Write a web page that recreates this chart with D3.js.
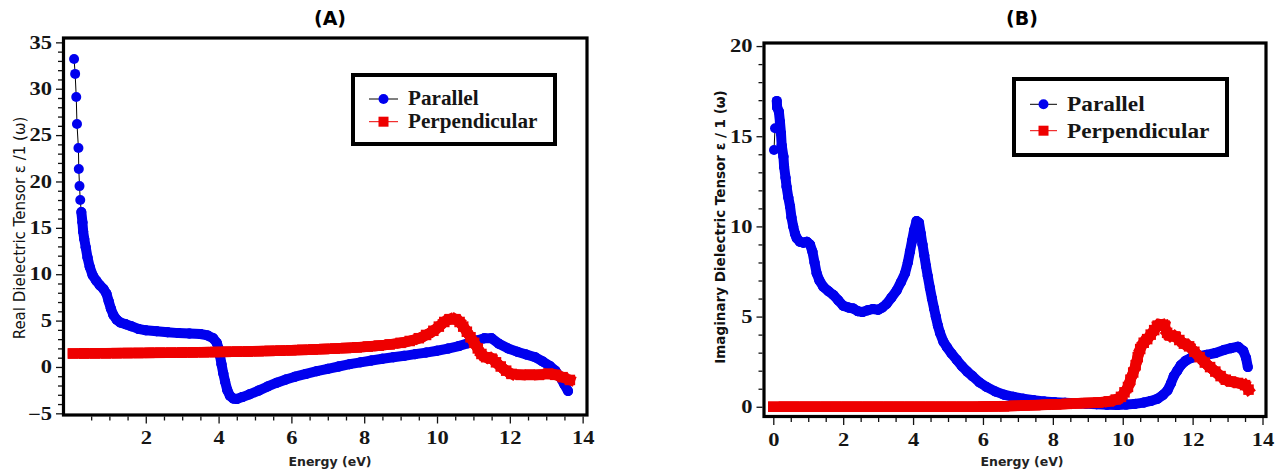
<!DOCTYPE html>
<html>
<head>
<meta charset="utf-8">
<script src="https://cdn.jsdelivr.net/npm/d3@7"></script>
<style>
  body { margin: 0; background: #fff; }
  svg { display: block; }
  .legend text { font-family: "Liberation Serif", "Times New Roman", serif; font-weight: bold; fill: #151515; transform-box: fill-box; transform-origin: left center; transform: scaleX(1.06); }
  .title { font-family: "DejaVu Sans", Verdana, sans-serif; font-weight: bold; font-size: 19px; }
  .xlabel { font-family: "DejaVu Sans", Verdana, sans-serif; font-weight: bold; font-size: 12.5px; fill: #222; }
</style>
</head>
<body>
<svg id="chart" width="1280" height="472"></svg>
<script>
// (A) real part, [energy eV, value]
const realParallel = [
  [0.03,33.2],[0.06,31.6],[0.09,29.1],[0.11,26.2],[0.15,23.6],[0.16,21.35],[0.18,19.5],[0.2,18.0],[0.23,16.7],[0.26,15.6],
  [0.28,14.6],[0.31,13.8],[0.35,12.9],[0.4,11.8],[0.46,10.8],[0.54,9.9],[0.64,9.3],[0.74,8.8],[0.84,8.4],[0.92,7.9],
  [0.98,7.1],[1.04,6.3],[1.11,5.6],[1.2,5.1],[1.3,4.8],[1.45,4.6],[1.6,4.4],[1.8,4.1],[2.0,3.95],[2.3,3.85],
  [2.6,3.75],[2.9,3.65],[3.2,3.6],[3.5,3.55],[3.7,3.4],[3.85,3.1],[3.95,2.6],[4.0,2.0],[4.04,1.2],[4.08,0.3],
  [4.13,-0.7],[4.18,-1.6],[4.24,-2.5],[4.31,-3.1],[4.4,-3.4],[4.5,-3.45],[4.65,-3.25],[4.85,-2.95],[5.1,-2.55],[5.35,-2.1],
  [5.6,-1.7],[5.85,-1.35],[6.1,-1.05],[6.4,-0.75],[6.7,-0.45],[7.0,-0.2],[7.3,0.05],[7.6,0.3],[7.9,0.5],[8.2,0.7],
  [8.5,0.88],[8.8,1.05],[9.1,1.2],[9.4,1.38],[9.7,1.55],[10.0,1.75],[10.3,1.98],[10.6,2.25],[10.85,2.55],[11.1,2.85],
  [11.3,3.1],[11.5,3.1],[11.7,2.5],[11.95,2.0],[12.2,1.65],[12.45,1.35],[12.7,1.05],[12.9,0.6],[13.1,0.1],[13.25,-0.4],
  [13.4,-1.2],[13.5,-1.9],[13.6,-2.6]
];
const realPerpendicular = [
  [0.0,1.45],[0.3,1.46],[0.6,1.47],[0.9,1.48],[1.2,1.49],[1.5,1.5],[1.8,1.51],[2.1,1.52],[2.4,1.53],[2.7,1.54],
  [3.0,1.55],[3.3,1.57],[3.6,1.59],[3.9,1.61],[4.2,1.63],[4.5,1.65],[4.8,1.67],[5.1,1.7],[5.4,1.73],[5.7,1.76],
  [6.0,1.8],[6.3,1.84],[6.6,1.88],[6.9,1.93],[7.2,1.98],[7.5,2.04],[7.8,2.11],[8.1,2.2],[8.4,2.3],[8.7,2.43],
  [9.0,2.6],[9.25,2.8],[9.5,3.1],[9.7,3.45],[9.9,3.9],[10.05,4.35],[10.2,4.85],[10.35,5.15],[10.5,5.15],[10.62,4.85],
  [10.72,4.35],[10.82,3.8],[10.92,3.2],[11.02,2.6],[11.12,2.0],[11.22,1.4],[11.35,1.05],[11.5,0.9],[11.62,0.5],[11.75,0.05],
  [11.9,-0.4],[12.05,-0.75],[12.3,-0.85],[12.55,-0.85],[12.8,-0.85],[13.05,-0.75],[13.25,-0.85],[13.45,-1.1],[13.65,-1.4]
];
// (B) imaginary part, [energy eV, value]
const imagParallel = [
  [0.02,14.24],[0.05,15.44],[0.1,16.96],[0.11,16.6],[0.16,16.36],[0.19,15.8],[0.22,15.16],[0.24,14.5],[0.29,13.87],[0.31,13.3],
  [0.35,12.7],[0.38,12.2],[0.43,11.6],[0.48,11.1],[0.52,10.5],[0.57,10.0],[0.62,9.6],[0.67,9.35],[0.76,9.15],[0.86,9.1],
  [0.96,9.15],[1.05,9.0],[1.12,8.6],[1.18,8.0],[1.24,7.4],[1.32,7.0],[1.43,6.66],[1.58,6.4],[1.72,6.2],[1.86,5.9],
  [2.0,5.6],[2.15,5.5],[2.29,5.45],[2.42,5.3],[2.55,5.25],[2.7,5.35],[2.85,5.42],[3.0,5.38],[3.12,5.5],[3.24,5.7],
  [3.38,6.05],[3.53,6.45],[3.65,6.9],[3.77,7.4],[3.85,8.0],[3.91,8.6],[3.97,9.2],[4.03,9.8],[4.1,10.3],[4.17,10.2],
  [4.22,9.6],[4.27,9.0],[4.32,8.4],[4.37,7.8],[4.42,7.25],[4.48,6.6],[4.54,6.0],[4.6,5.45],[4.65,5.0],[4.71,4.5],
  [4.77,4.1],[4.87,3.6],[4.97,3.3],[5.1,2.95],[5.25,2.6],[5.4,2.25],[5.55,1.95],[5.7,1.7],[5.9,1.35],[6.1,1.1],
  [6.35,0.85],[6.6,0.67],[6.87,0.55],[7.15,0.45],[7.45,0.36],[7.75,0.29],[8.05,0.25],[8.35,0.22],[8.65,0.19],[8.95,0.17],
  [9.25,0.14],[9.55,0.11],[9.85,0.1],[10.1,0.12],[10.35,0.16],[10.6,0.23],[10.8,0.32],[11.0,0.45],[11.15,0.65],[11.28,0.9],
  [11.38,1.3],[11.46,1.7],[11.56,2.0],[11.66,2.3],[11.8,2.55],[11.95,2.7],[12.15,2.8],[12.4,2.88],[12.65,2.98],[12.9,3.15],
  [13.1,3.25],[13.3,3.33],[13.45,3.1],[13.53,2.7],[13.58,2.2]
];
const imagPerpendicular = [
  [0.0,0],[0.3,0],[0.6,0],[0.9,0],[1.2,0],[1.5,0],[1.8,0],[2.1,0],[2.4,0],[2.7,0],
  [3.0,0],[3.3,0],[3.6,0],[3.9,0],[4.2,0],[4.5,0],[4.8,0],[5.1,0],[5.4,0],[5.7,0],
  [6.0,0.01],[6.3,0.02],[6.6,0.03],[6.9,0.05],[7.2,0.07],[7.5,0.09],[7.8,0.11],[8.1,0.13],[8.4,0.16],[8.7,0.19],
  [9.0,0.21],[9.3,0.24],[9.6,0.3],[9.8,0.4],[9.95,0.55],[10.05,0.8],[10.15,1.1],[10.22,1.5],[10.3,1.9],[10.37,2.3],
  [10.43,2.75],[10.5,3.2],[10.6,3.55],[10.7,3.75],[10.8,4.0],[10.9,4.25],[11.0,4.5],[11.1,4.55],[11.2,4.5],[11.27,4.1],
  [11.35,3.95],[11.5,3.9],[11.62,3.7],[11.75,3.5],[11.9,3.35],[12.05,3.05],[12.2,2.75],[12.35,2.45],[12.5,2.2],[12.65,1.95],
  [12.8,1.7],[12.95,1.5],[13.1,1.4],[13.3,1.32],[13.5,1.2],[13.6,0.95]
];

const seriesNames = ["Parallel", "Perpendicular"];
const seriesColors = ["#0000ee", "#ee0000"];
const xTicksA = [2, 4, 6, 8, 10, 12, 14];
const xTicksB = [0, 2, 4, 6, 8, 10, 12, 14];
const yTicksA = [-5, 0, 5, 10, 15, 20, 25, 30, 35];
const yTicksB = [0, 5, 10, 15, 20];

const svg = d3.select("#chart");
const serif = "'Liberation Serif', 'Times New Roman', serif";

const panels = [
  {
    title: "(A)", ylabel: "Real Dielectric Tensor \u03b5 /1 (\u03c9)", ylabelBold: false, ylabelSize: 15,
    series: [realParallel, realPerpendicular],
    left: 63.5, right: 587, top: 38, bottom: 415,
    xDomain: [-0.26, 14.12], yDomain: [-5.18, 35.47],
    xTicks: xTicksA, xMinorFrom: 0.5, yTicks: yTicksA, yMinorStep: 1,
    legend: { x: 353, y: 75, w: 202, h: 69, rows: [99, 121.7], lineX: [369, 398], textX: 408, fontSize: 20 },
    ylabelX: 20, ylabelY: 228, centerX: 330
  },
  {
    title: "(B)", ylabel: "Imaginary Dielectric Tensor \u03b5 / 1 (\u03c9)", ylabelBold: true, ylabelSize: 13.5,
    series: [imagParallel, imagPerpendicular],
    left: 764, right: 1266, top: 43, bottom: 416.5,
    xDomain: [-0.266, 14.1], yDomain: [-0.54, 20.17],
    xTicks: xTicksB, xMinorFrom: 0, yTicks: yTicksB, yMinorStep: 1,
    legend: { x: 1014, y: 79, w: 213, h: 76, rows: [104.3, 130.7], lineX: [1030, 1057], textX: 1067, fontSize: 22 },
    ylabelX: 720, ylabelY: 227, centerX: 1022
  }
];

function styleTickText(sel, origin) {
  sel.attr("font-family", serif).attr("font-size", 18).attr("font-weight", "bold");
  sel.selectAll(".tick text")
    .style("font-family", serif)
    .style("font-weight", "bold")
    .style("font-size", "18px")
    .style("fill", "#151515")
    .style("transform-box", "fill-box")
    .style("transform-origin", origin)
    .style("transform", "scaleX(1.25)");
}

function drawPanel(p) {
  const g = svg.append("g");
  const x = d3.scaleLinear(p.xDomain, [p.left, p.right]);
  const y = d3.scaleLinear(p.yDomain, [p.bottom, p.top]);

  const xMinor = d3.range(p.xMinorFrom, 14.001, 0.5).filter(v => !p.xTicks.includes(v));
  const yMinor = d3.range(p.yTicks[0], p.yTicks[p.yTicks.length - 1] + 0.001, p.yMinorStep).filter(v => !p.yTicks.includes(v));

  // minor ticks
  g.append("g")
    .attr("transform", `translate(0,${p.bottom + 1.5})`)
    .call(d3.axisBottom(x).tickValues(xMinor).tickSize(4).tickFormat(""))
    .call(a => a.select(".domain").remove());
  g.append("g")
    .attr("transform", `translate(${p.left - 1.5},0)`)
    .call(d3.axisLeft(y).tickValues(yMinor).tickSize(4).tickFormat(""))
    .call(a => a.select(".domain").remove());

  // major ticks
  g.append("g")
    .attr("transform", `translate(0,${p.bottom + 1.5})`)
    .call(d3.axisBottom(x).tickValues(p.xTicks).tickSize(7).tickPadding(8).tickFormat(d3.format("d")))
    .call(a => a.select(".domain").remove())
    .call(a => styleTickText(a, "center"));
  g.append("g")
    .attr("transform", `translate(${p.left - 1.5},0)`)
    .call(d3.axisLeft(y).tickValues(p.yTicks).tickSize(6).tickPadding(4).tickFormat(d3.format("d")))
    .call(a => a.select(".domain").remove())
    .call(a => styleTickText(a, "right center"));
  g.selectAll(".tick line").attr("stroke", "#111").attr("stroke-width", 1.3);

  // series: thin connecting line, merged markers band, markers
  p.series.forEach((pts, i) => {
    const color = seriesColors[i];
    const isCircle = i === 0;
    g.append("path")
      .datum(pts)
      .attr("fill", "none")
      .attr("stroke", isCircle ? "#000" : color)
      .attr("stroke-width", 1)
      .attr("d", d3.line().x(d => x(d[0])).y(d => y(d[1])));

    // neighbouring markers that touch merge into one band
    const segs = d3.pairs(pts).filter(([a, b]) =>
      Math.hypot(x(b[0]) - x(a[0]), y(b[1]) - y(a[1])) < 12);
    g.append("g").selectAll("line")
      .data(segs)
      .join("line")
      .attr("x1", d => x(d[0][0])).attr("y1", d => y(d[0][1]))
      .attr("x2", d => x(d[1][0])).attr("y2", d => y(d[1][1]))
      .attr("stroke", color)
      .attr("stroke-width", isCircle ? 10 : 10.5)
      .attr("stroke-linecap", isCircle ? "round" : "square");

    if (isCircle) {
      g.append("g").selectAll("circle")
        .data(pts)
        .join("circle")
        .attr("cx", d => x(d[0])).attr("cy", d => y(d[1]))
        .attr("r", 5)
        .attr("fill", color);
    } else {
      g.append("g").selectAll("rect")
        .data(pts)
        .join("rect")
        .attr("x", d => x(d[0]) - 5.25).attr("y", d => y(d[1]) - 5.25)
        .attr("width", 10.5).attr("height", 10.5)
        .attr("fill", color);
    }
  });

  // frame
  g.append("rect")
    .attr("x", p.left).attr("y", p.top)
    .attr("width", p.right - p.left).attr("height", p.bottom - p.top)
    .attr("fill", "none").attr("stroke", "#000").attr("stroke-width", 3.2);

  // legend
  const L = p.legend;
  const lg = g.append("g").attr("class", "legend");
  lg.append("rect")
    .attr("x", L.x).attr("y", L.y).attr("width", L.w).attr("height", L.h)
    .attr("fill", "#fff").attr("stroke", "#000").attr("stroke-width", 4);
  seriesNames.forEach((name, i) => {
    const ry = L.rows[i];
    const mx = (L.lineX[0] + L.lineX[1]) / 2;
    lg.append("line")
      .attr("x1", L.lineX[0]).attr("x2", L.lineX[1]).attr("y1", ry).attr("y2", ry)
      .attr("stroke", i === 0 ? "#000" : seriesColors[1]).attr("stroke-width", 1);
    if (i === 0) {
      lg.append("circle").attr("cx", mx).attr("cy", ry).attr("r", 5).attr("fill", seriesColors[0]);
    } else {
      lg.append("rect").attr("x", mx - 5).attr("y", ry - 5).attr("width", 10).attr("height", 10).attr("fill", seriesColors[1]);
    }
    lg.append("text")
      .attr("x", L.textX).attr("y", ry)
      .attr("dy", "0.32em")
      .style("font-size", L.fontSize + "px")
      .text(name);
  });

  // titles
  svg.append("text").attr("class", "title")
    .attr("x", p.centerX).attr("y", 25)
    .attr("text-anchor", "middle").text(p.title);
  svg.append("text").attr("class", "xlabel")
    .attr("x", p.centerX).attr("y", 466)
    .attr("text-anchor", "middle").text("Energy (eV)");
  svg.append("text")
    .attr("transform", `translate(${p.ylabelX},${p.ylabelY}) rotate(-90)`)
    .attr("text-anchor", "middle").attr("dy", "0.35em")
    .style("font-family", "'DejaVu Sans', Verdana, sans-serif")
    .style("font-weight", p.ylabelBold ? "bold" : "normal")
    .style("font-size", p.ylabelSize + "px")
    .attr("fill", "#111")
    .text(p.ylabel);
}

panels.forEach(drawPanel);
</script>
</body>
</html>
